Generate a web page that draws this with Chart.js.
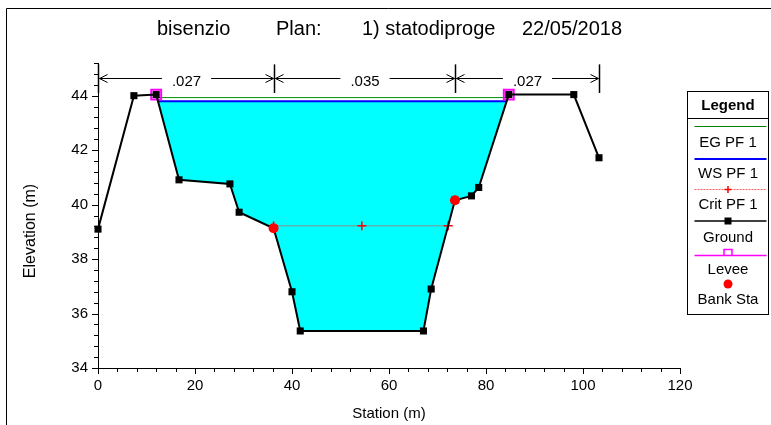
<!DOCTYPE html>
<html>
<head>
<meta charset="utf-8">
<script src="https://cdn.jsdelivr.net/npm/chart.js@4.4.1/dist/chart.umd.min.js"></script>
<style>
  html, body { margin: 0; padding: 0; background: #fff; }
  #wrap { position: relative; width: 771px; height: 425px; }
  canvas { display: block; }
</style>
</head>
<body>
<div id="wrap"><canvas id="c" width="771" height="425"></canvas></div>
<script>
// Cross-section geometry (station m, elevation m)
const groundStation = [0, 7.4, 12.0, 16.7, 27.2, 29.1, 36.2, 40.0, 41.7, 67.1, 68.7, 73.6, 77.0, 78.5, 84.7, 98.1, 103.3];
const groundElev    = [39.1, 44.0, 44.04, 40.91, 40.76, 39.72, 39.13, 36.8, 35.36, 35.36, 36.9, 40.16, 40.32, 40.63, 44.04, 44.04, 41.72];

const leveeStation = [12.0, 84.7];
const leveeElev    = [44.04, 44.04];

const bankStation = [36.2, 73.6];
const bankElev    = [39.13, 40.16];

// Profile PF 1
const wsElev = 43.8;
const egElev = 43.93;
const critStation = [36.2, 54.4, 72.2];
const critElev = 39.22;

// Manning's n per reach (left overbank, channel, right overbank)
const nValues = ['.027', '.035', '.027'];

const xTickLabels = [0, 20, 40, 60, 80, 100, 120];
const yTickLabels = [34, 36, 38, 40, 42, 44];

const titleParts = ['bisenzio', 'Plan:', '1) statodiproge', '22/05/2018'];
const legendItems = ['EG PF 1', 'WS PF 1', 'Crit PF 1', 'Ground', 'Levee', 'Bank Sta'];

const FONT = '"Liberation Sans", Arial, sans-serif';

// Where the water surface meets the ground between points i0 and i1
function crossing(i0, i1, level) {
  const x0 = groundStation[i0], y0 = groundElev[i0];
  const x1 = groundStation[i1], y1 = groundElev[i1];
  return x0 + (level - y0) / (y1 - y0) * (x1 - x0);
}

const li = groundStation.indexOf(leveeStation[0]);
const ri = groundStation.indexOf(leveeStation[1]);
const wsLeft = crossing(li, li + 1, wsElev);
const wsRight = crossing(ri - 1, ri, wsElev);

const waterPoly = [{ x: wsLeft, y: wsElev }];
for (let i = li + 1; i < ri; i++) waterPoly.push({ x: groundStation[i], y: groundElev[i] });
waterPoly.push({ x: wsRight, y: wsElev });

const groundPts = groundStation.map((s, i) => ({ x: s, y: groundElev[i] }));
const leveePts = leveeStation.map((s, i) => ({ x: s, y: leveeElev[i] }));
const bankPts = bankStation.map((s, i) => ({ x: s, y: bankElev[i] }));
const critPts = critStation.map(s => ({ x: s, y: critElev }));

const near = (v, step) => Math.abs(v / step - Math.round(v / step)) < 1e-6;

// Outer frame, title and axis titles
const decorPlugin = {
  id: 'decor',
  beforeDraw(chart) {
    const ctx = chart.ctx;
    ctx.save();
    ctx.fillStyle = '#fff';
    ctx.fillRect(0, 0, chart.width, chart.height);
    ctx.strokeStyle = '#000';
    ctx.lineWidth = 1;
    ctx.beginPath();
    ctx.moveTo(6.5, chart.height);
    ctx.lineTo(6.5, 8.5);
    ctx.lineTo(chart.width, 8.5);
    ctx.stroke();

    ctx.fillStyle = '#000';
    ctx.font = '20px ' + FONT;
    ctx.textBaseline = 'alphabetic';
    ctx.textAlign = 'left';
    const xs = [157, 276, 362, 522];
    titleParts.forEach((t, i) => ctx.fillText(t, xs[i], 35));

    ctx.font = '15px ' + FONT;
    ctx.textAlign = 'center';
    ctx.textBaseline = 'middle';
    const xs2 = chart.scales.x;
    ctx.fillText('Station (m)', (xs2.left + xs2.right) / 2, 414);
    ctx.font = '16px ' + FONT;
    ctx.translate(31, 231);
    ctx.rotate(-Math.PI / 2);
    ctx.fillText('Elevation (m)', 0, 0);
    ctx.restore();
  }
};

// Axis tick marks (major every 20 m / 2 m, minor between)
const ticksPlugin = {
  id: 'tickMarks',
  afterDraw(chart) {
    const { ctx, scales: { x, y } } = chart;
    ctx.save();
    ctx.strokeStyle = '#000';
    ctx.lineWidth = 1;
    x.ticks.forEach(t => {
      const px = Math.round(x.getPixelForValue(t.value)) + 0.5;
      const len = near(t.value, 20) ? 6 : 4;
      ctx.beginPath();
      ctx.moveTo(px, y.bottom);
      ctx.lineTo(px, y.bottom + len);
      ctx.stroke();
    });
    y.ticks.forEach(t => {
      const py = Math.round(y.getPixelForValue(t.value)) + 0.5;
      const len = near(t.value, 2) ? 6 : 4;
      ctx.beginPath();
      ctx.moveTo(x.left, py);
      ctx.lineTo(x.left - len, py);
      ctx.stroke();
    });
    ctx.restore();
  }
};

// Manning's n reach markers above the section
const nPlugin = {
  id: 'nValues',
  afterDatasetsDraw(chart) {
    const { ctx, scales: { x, y } } = chart;
    const bounds = [groundStation[0], bankStation[0], bankStation[1], groundStation[groundStation.length - 1]];
    const px = bounds.map(b => Math.round(x.getPixelForValue(b)) + 0.5);
    const top = y.getPixelForValue(45.15);
    const bot = y.getPixelForValue(44.1);
    const ly = Math.round(y.getPixelForValue(44.66)) + 0.5;
    ctx.save();
    ctx.strokeStyle = '#000';
    ctx.fillStyle = '#000';
    ctx.lineWidth = 1.5;
    px.forEach(p => {
      ctx.beginPath();
      ctx.moveTo(p, top);
      ctx.lineTo(p, bot);
      ctx.stroke();
    });
    ctx.font = '15px ' + FONT;
    ctx.textAlign = 'center';
    ctx.textBaseline = 'middle';
    ctx.lineWidth = 1;
    for (let i = 0; i < 3; i++) {
      const a = px[i], b = px[i + 1];
      const mid = (a + b) / 2;
      const half = ctx.measureText(nValues[i]).width / 2 + 10;
      ctx.beginPath();
      ctx.moveTo(a + 1, ly); ctx.lineTo(mid - half, ly);
      ctx.moveTo(mid + half, ly); ctx.lineTo(b - 1, ly);
      // arrow heads
      ctx.moveTo(a + 9, ly - 4); ctx.lineTo(a + 1, ly); ctx.lineTo(a + 9, ly + 4);
      ctx.moveTo(b - 9, ly - 4); ctx.lineTo(b - 1, ly); ctx.lineTo(b - 9, ly + 4);
      ctx.stroke();
      ctx.fillText(nValues[i], mid, ly + 3);
    }
    ctx.restore();
  }
};

// Boxed legend on the right
const legendPlugin = {
  id: 'boxLegend',
  afterDraw(chart) {
    const ctx = chart.ctx;
    const L = 687.5, T = 91.5, W = 81, H = 223;
    const cx = L + W / 2;
    const x0 = L + 7, x1 = L + W - 2;
    ctx.save();
    ctx.strokeStyle = '#000';
    ctx.lineWidth = 1;
    ctx.strokeRect(L, T, W, H);
    ctx.beginPath();
    ctx.moveTo(L, 118.5); ctx.lineTo(L + W, 118.5);
    ctx.stroke();

    ctx.fillStyle = '#000';
    ctx.textAlign = 'center';
    ctx.textBaseline = 'middle';
    ctx.font = 'bold 15px ' + FONT;
    ctx.fillText('Legend', cx, 106);

    const hline = (yy, color, w, dash) => {
      ctx.save();
      ctx.strokeStyle = color; ctx.lineWidth = w;
      if (dash) ctx.setLineDash(dash);
      ctx.beginPath(); ctx.moveTo(x0, yy); ctx.lineTo(x1, yy); ctx.stroke();
      ctx.restore();
    };
    hline(126.5, '#008000', 1);
    hline(159, '#0000FF', 2);
    hline(189.5, '#FF6060', 1, [2, 1]);
    ctx.save();
    ctx.strokeStyle = '#FF0000'; ctx.lineWidth = 1.5;
    ctx.beginPath();
    ctx.moveTo(cx - 3.5, 189.5); ctx.lineTo(cx + 3.5, 189.5);
    ctx.moveTo(cx, 186); ctx.lineTo(cx, 193);
    ctx.stroke();
    ctx.restore();
    hline(221, '#000', 1.5);
    ctx.fillRect(cx - 3.5, 217.5, 7, 7);
    hline(255.5, '#FF00FF', 1.5);
    ctx.save();
    ctx.strokeStyle = '#FF00FF'; ctx.lineWidth = 1.5;
    ctx.beginPath();
    ctx.moveTo(cx - 4, 255.5); ctx.lineTo(cx - 4, 249.5); ctx.lineTo(cx + 4, 249.5); ctx.lineTo(cx + 4, 255.5);
    ctx.stroke();
    ctx.restore();
    ctx.save();
    ctx.fillStyle = '#FF0000';
    ctx.beginPath(); ctx.arc(cx, 284, 4.5, 0, Math.PI * 2); ctx.fill();
    ctx.restore();

    ctx.font = '15px ' + FONT;
    const ys = [143, 174, 205, 238, 270, 300];
    legendItems.forEach((t, i) => ctx.fillText(t, cx, ys[i]));
    ctx.restore();
  }
};

new Chart(document.getElementById('c'), {
  type: 'scatter',
  data: {
    datasets: [
      { label: 'Water', data: waterPoly, showLine: true, fill: { value: wsElev },
        backgroundColor: '#00FFFF', borderWidth: 0, pointRadius: 0, order: 9 },
      { label: 'EG PF 1', data: leveePts.map(p => ({ x: p.x, y: egElev })), showLine: true,
        borderColor: '#009000', borderWidth: 1, pointRadius: 0, order: 7 },
      { label: 'WS PF 1', data: [{ x: wsLeft, y: wsElev }, { x: wsRight, y: wsElev }], showLine: true,
        borderColor: '#0000FF', borderWidth: 2, pointRadius: 0, order: 6 },
      { label: 'Crit PF 1', data: critPts, showLine: true,
        borderColor: '#8C8C8C', borderWidth: 1, pointStyle: 'cross', pointRadius: 4.5,
        pointBorderColor: '#FF0000', pointBorderWidth: 1.5, order: 5 },
      { label: 'Ground', data: groundPts, showLine: true, clip: false,
        borderColor: '#000', borderWidth: 2, pointStyle: 'rect', pointRadius: 5,
        pointBackgroundColor: '#000', pointBorderColor: '#000', pointBorderWidth: 0, order: 3 },
      { label: 'Levee', data: leveePts, showLine: false, clip: false,
        pointStyle: 'rect', pointRadius: 7, pointBackgroundColor: 'rgba(0,0,0,0)',
        pointBorderColor: '#FF00FF', pointBorderWidth: 2, order: 4 },
      { label: 'Bank Sta', data: bankPts, showLine: false, clip: false,
        pointStyle: 'circle', pointRadius: 5, pointBackgroundColor: '#FF0000',
        pointBorderColor: '#FF0000', pointBorderWidth: 0, order: 1 }
    ]
  },
  options: {
    responsive: false,
    animation: false,
    events: [],
    layout: { padding: { left: 10, right: 91, top: 63, bottom: 10 } },
    plugins: { legend: { display: false }, tooltip: { enabled: false }, title: { display: false } },
    scales: {
      x: {
        type: 'linear', min: 0, max: 120,
        grid: { display: true, drawOnChartArea: false, drawTicks: false },
        border: { display: true, color: '#000', width: 1 },
        ticks: {
          stepSize: 4, autoSkip: false, maxRotation: 0, padding: 9,
          color: '#000', font: { family: FONT, size: 15 },
          callback: v => xTickLabels.includes(Math.round(v)) && near(v, 20) ? String(Math.round(v)) : ''
        },
        afterFit: s => { s.height = 47; }
      },
      y: {
        type: 'linear', min: 34, max: 45.2,
        grid: { display: true, drawOnChartArea: false, drawTicks: false },
        border: { display: true, color: '#000', width: 1 },
        ticks: {
          stepSize: 0.4, autoSkip: false, padding: 10,
          color: '#000', font: { family: FONT, size: 15 },
          callback: v => near(v, 2) && yTickLabels.includes(Math.round(v)) ? String(Math.round(v)) : ''
        },
        afterFit: s => { s.width = 88; }
      }
    }
  },
  plugins: [decorPlugin, nPlugin, ticksPlugin, legendPlugin]
});
</script>
</body>
</html>
